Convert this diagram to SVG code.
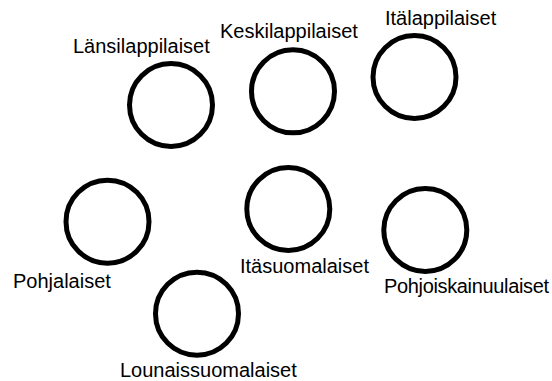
<svg xmlns="http://www.w3.org/2000/svg" width="552" height="381" viewBox="0 0 552 381">
<style>
.n{fill:#ffffff;stroke:#000000;stroke-width:5}
.t{font-family:"Liberation Sans",Arial,sans-serif;font-size:20px;fill:#000000}
</style>
<rect width="552" height="381" fill="#ffffff"/>
<g id="connectors"></g>
<g id="lansilappilaiset"><circle class="n" cx="171" cy="105" r="41.5"/><text class="t" x="73" y="52.7">Länsilappilaiset</text></g>
<g id="keskilappilaiset"><circle class="n" cx="293" cy="91.3" r="41.5"/><text class="t" x="220" y="38">Keskilappilaiset</text></g>
<g id="italappilaiset"><circle class="n" cx="414.5" cy="77" r="41.5"/><text class="t" x="385" y="25">Itälappilaiset</text></g>
<g id="pohjalaiset"><circle class="n" cx="107.5" cy="221.7" r="41.5"/><text class="t" x="13" y="287.7">Pohjalaiset</text></g>
<g id="itasuomalaiset"><circle class="n" cx="288.3" cy="209" r="41.5"/><text class="t" x="240" y="273.3">Itäsuomalaiset</text></g>
<g id="pohjoiskainuulaiset"><circle class="n" cx="425.3" cy="230" r="41.5"/><text class="t" x="384" y="292.7" textLength="165" lengthAdjust="spacing">Pohjoiskainuulaiset</text></g>
<g id="lounaissuomalaiset"><circle class="n" cx="197" cy="313.7" r="41.5"/><text class="t" x="120" y="376.7">Lounaissuomalaiset</text></g>
</svg>
